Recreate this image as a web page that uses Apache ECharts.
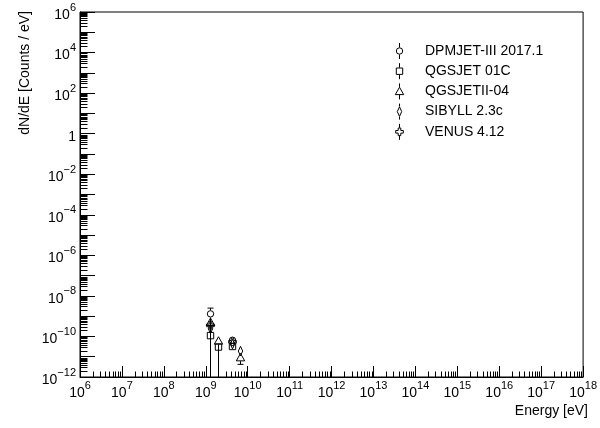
<!DOCTYPE html>
<html>
<head>
<meta charset="utf-8">
<script src="https://cdn.jsdelivr.net/npm/echarts@6/dist/echarts.min.js"></script>
<style>
  html, body { margin: 0; padding: 0; background: #fff; }
  #chart { width: 600px; height: 428px; }
</style>
</head>
<body>
<div id="chart"></div>
<script>
// Hadronic interaction models compared in the spectrum
const modelNames = ['DPMJET-III 2017.1', 'QGSJET 01C', 'QGSJETII-04', 'SIBYLL 2.3c', 'VENUS 4.12'];
const modelMarkers = ['circle', 'square', 'triangle', 'diamond', 'cross'];

// Energy bin centres [eV]
const energyBins = [1.25e9, 1.95e9, 4.3e9, 6.6e9];

// dN/dE per model, with the lower / upper ends of the error bars
// (a lower end of 0 means the bar runs down to the bottom of the frame)
const dpmjetFlux   = [1.3e-9, null, 6.5e-11, null];
const dpmjetLow    = [0, null, 4.6e-11, null];
const dpmjetHigh   = [2.5e-9, null, 9.0e-11, null];

const qgsjet01Flux = [1.1e-10, 3.0e-11, 3.2e-11, null];
const qgsjet01Low  = [0, 0, 2.3e-11, null];
const qgsjet01High = [1.5e-10, 4.2e-11, 4.4e-11, null];

const qgsjet2Flux  = [5.0e-10, 6.0e-11, null, 9.0e-12];
const qgsjet2Low   = [3.4e-10, 0, null, 4.2e-12];
const qgsjet2High  = [7.0e-10, 8.5e-11, null, 1.3e-11];

const sibyllFlux   = [2.4e-10, null, 4.2e-11, 1.9e-11];
const sibyllLow    = [1.7e-10, null, 3.0e-11, 1.3e-11];
const sibyllHigh   = [3.4e-10, null, 5.8e-11, 2.6e-11];

const venusFlux    = [3.5e-10, null, 5.4e-11, null];
const venusLow     = [2.4e-10, null, 3.8e-11, null];
const venusHigh    = [4.8e-10, null, 7.4e-11, null];

// Axis ranges
const xRange = [1e6, 1e18];
const yRange = [1e-12, 1e6];

const fluxes = [dpmjetFlux, qgsjet01Flux, qgsjet2Flux, sibyllFlux, venusFlux];
const lows   = [dpmjetLow, qgsjet01Low, qgsjet2Low, sibyllLow, venusLow];
const highs  = [dpmjetHigh, qgsjet01High, qgsjet2High, sibyllHigh, venusHigh];

const FONT = '"Liberation Sans", Arial, Helvetica, sans-serif';
const INK = '#000';

// Half-extent of each marker above / below its centre, used to stop bars at the outline
const markerExtent = {
  circle: [3.5, 3.5], square: [3.5, 3.5], triangle: [4.5, 3.5], diamond: [5, 5], cross: [4, 4]
};

function markerShape(kind, cx, cy) {
  const style = { fill: 'none', stroke: INK, lineWidth: 1 };
  switch (kind) {
    case 'circle':
      return { type: 'circle', shape: { cx: cx, cy: cy, r: 3.2 }, style: style };
    case 'square':
      return { type: 'rect', shape: { x: cx - 3.2, y: cy - 3.2, width: 6.4, height: 6.4 }, style: style };
    case 'triangle':
      return { type: 'polygon', shape: { points: [[cx, cy - 4.2], [cx + 4.2, cy + 3.2], [cx - 4.2, cy + 3.2]] }, style: style };
    case 'diamond':
      return { type: 'polygon', shape: { points: [[cx, cy - 4.8], [cx + 2.2, cy], [cx, cy + 4.8], [cx - 2.2, cy]] }, style: style };
    default: {
      const a = 1.3, b = 3.8;
      return {
        type: 'polygon',
        shape: { points: [[cx - a, cy - b], [cx + a, cy - b], [cx + a, cy - a], [cx + b, cy - a], [cx + b, cy + a],
          [cx + a, cy + a], [cx + a, cy + b], [cx - a, cy + b], [cx - a, cy + a], [cx - b, cy + a],
          [cx - b, cy - a], [cx - a, cy - a]] },
        style: style
      };
    }
  }
}

function seg(x1, y1, x2, y2) {
  return { type: 'line', shape: { x1: x1, y1: y1, x2: x2, y2: y2 }, style: { stroke: INK, lineWidth: 1 } };
}

// Marker with vertical error bar (bars stop at the marker outline, capped at the ends)
function pointRenderer(kind) {
  return function (params, api) {
    const e = api.value(0), v = api.value(1), lo = api.value(2), hi = api.value(3);
    const p = api.coord([e, v]);
    const toFloor = !(lo > 0);
    const pl = api.coord([e, toFloor ? yRange[0] : lo]);
    const ph = api.coord([e, hi]);
    const x = Math.round(p[0]) + 0.5;
    const ext = markerExtent[kind];
    const kids = [];
    if (ph[1] < p[1] - ext[0]) {
      kids.push(seg(x, ph[1], x, p[1] - ext[0]));
      kids.push(seg(x - 3, ph[1], x + 3, ph[1]));
    }
    if (pl[1] > p[1] + ext[1]) {
      kids.push(seg(x, p[1] + ext[1], x, pl[1]));
      if (!toFloor) kids.push(seg(x - 3, pl[1], x + 3, pl[1]));
    }
    kids.push(markerShape(kind, x, p[1]));
    return { type: 'group', children: kids };
  };
}

// Minor ticks at 2..9 x 10^k inside the frame
function decadeMinors(lo, hi) {
  const out = [];
  for (let k = Math.round(Math.log10(lo)); k < Math.round(Math.log10(hi)); k++) {
    for (let m = 2; m <= 9; m++) out.push(m * Math.pow(10, k));
  }
  return out;
}
const xMinorTicks = decadeMinors(xRange[0], xRange[1]);
const yMinorTicks = decadeMinors(yRange[0], yRange[1]);

function powerLabel(value, everyOther) {
  const k = Math.round(Math.log10(value));
  if (everyOther && k % 2 !== 0) return '';
  if (k === 0) return '{b|1}';
  return '{b|10}{s|' + String(k).replace('-', '\u2212') + '}';
}
const labelRich = {
  b: { fontFamily: FONT, fontSize: 14, color: INK, lineHeight: 20, verticalAlign: 'bottom' },
  s: { fontFamily: FONT, fontSize: 11, color: INK, lineHeight: 9, verticalAlign: 'top' }
};

const series = modelNames.map(function (name, i) {
  const data = [];
  energyBins.forEach(function (e, j) {
    if (fluxes[i][j] != null) data.push([e, fluxes[i][j], lows[i][j], highs[i][j]]);
  });
  return { type: 'custom', name: name, renderItem: pointRenderer(modelMarkers[i]), data: data, clip: true, z: 5 };
});

series.push({
  type: 'custom', name: 'xMinor', silent: true, z: 3,
  data: xMinorTicks.map(function (v) { return [v, yRange[0]]; }),
  renderItem: function (params, api) {
    const p = api.coord([api.value(0), api.value(1)]);
    const x = Math.round(p[0]) + 0.5;
    return seg(x, p[1], x, p[1] - 5.5);
  }
});
series.push({
  type: 'custom', name: 'yMinor', silent: true, z: 3,
  data: yMinorTicks.map(function (v) { return [xRange[0], v]; }),
  renderItem: function (params, api) {
    const p = api.coord([api.value(0), api.value(1)]);
    const y = Math.round(p[1]) + 0.5;
    return seg(p[0], y, p[0] + 7.5, y);
  }
});

// Legend: marker with a short error stub, then the model name
const legendItems = [];
modelNames.forEach(function (name, i) {
  const cy = 51 + 20.2 * i, cx = 399.5;
  const ext = markerExtent[modelMarkers[i]];
  legendItems.push(seg(cx, cy - 8, cx, cy - ext[0]));
  legendItems.push(seg(cx, cy + ext[1], cx, cy + 8));
  legendItems.push(markerShape(modelMarkers[i], cx, cy));
  legendItems.push({
    type: 'text', x: 425, y: cy,
    style: { text: name, fontFamily: FONT, fontSize: 14, fill: INK, align: 'left', verticalAlign: 'middle' }
  });
});

const chart = echarts.init(document.getElementById('chart'), null, { renderer: 'canvas' });
chart.setOption({
  animation: false,
  backgroundColor: '#fff',
  grid: { left: 80, top: 12, right: 12, bottom: 51, show: true, borderColor: INK, borderWidth: 1, backgroundColor: 'transparent' },
  xAxis: {
    type: 'log', logBase: 10, min: xRange[0], max: xRange[1], interval: 1,
    axisLine: { show: true, lineStyle: { color: INK, width: 1 } },
    axisTick: { show: true, inside: true, length: 11, lineStyle: { color: INK, width: 1 } },
    minorTick: { show: false },
    splitLine: { show: false },
    axisLabel: { margin: 3, formatter: function (v) { return powerLabel(v, false); }, rich: labelRich, showMinLabel: true, showMaxLabel: true, hideOverlap: false }
  },
  yAxis: {
    type: 'log', logBase: 10, min: yRange[0], max: yRange[1], interval: 1,
    axisLine: { show: true, lineStyle: { color: INK, width: 1 } },
    axisTick: { show: true, inside: true, length: 15, lineStyle: { color: INK, width: 1 } },
    minorTick: { show: false },
    splitLine: { show: false },
    axisLabel: { margin: 4, formatter: function (v) { return powerLabel(v, true); }, rich: labelRich, showMinLabel: true, showMaxLabel: true, hideOverlap: false }
  },
  series: series,
  graphic: legendItems.concat([
    {
      type: 'text', x: 588, y: 411,
      style: { text: 'Energy [eV]', fontFamily: FONT, fontSize: 14, fill: INK, align: 'right', verticalAlign: 'middle' }
    },
    {
      type: 'text', x: 25, y: 11, rotation: Math.PI / 2,
      style: { text: 'dN/dE [Counts / eV]', fontFamily: FONT, fontSize: 14, fill: INK, align: 'right', verticalAlign: 'middle' }
    }
  ])
});
</script>
</body>
</html>
